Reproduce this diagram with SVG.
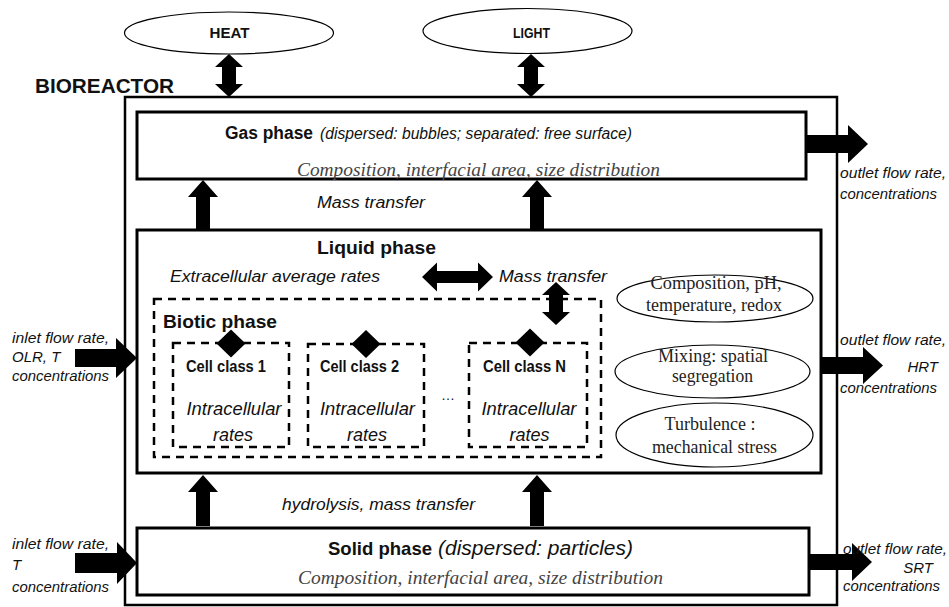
<svg xmlns="http://www.w3.org/2000/svg" xmlns:xlink="http://www.w3.org/1999/xlink" width="949" height="607" viewBox="0 0 949 607">
  <style>
    .box { fill: #ffffff; stroke: #000000; stroke-width: 3; }
    .outer { fill: #ffffff; stroke: #000000; stroke-width: 2.5; }
    .dash { fill: none; stroke: #000000; stroke-width: 2.5; stroke-dasharray: 8 6; }
    .ell { fill: #ffffff; stroke: #000000; stroke-width: 1.2; }
    .arrow { fill: #000000; stroke: none; }
    .sans { font-family: "Liberation Sans", Arial, sans-serif; fill: #111111; }
    .b { font-weight: bold; }
    .i { font-style: italic; }
    .serif { font-family: "Liberation Serif", "Times New Roman", serif; fill: #222222; }
    .comp { font-family: "Liberation Serif", "Times New Roman", serif; font-style: italic; fill: #444444; font-size: 19px; }
    .side { font-family: "Liberation Sans", Arial, sans-serif; font-style: italic; font-size: 15px; fill: #111111; }
  </style>
  <defs>
    <polygon id="upArrow" points="0,0 15,17 7,17 7,51 -7,51 -7,17 -15,17"/>
    <polygon id="dblV" points="0,0 14,13 7,13 7,30 14,30 0,43 -14,30 -7,30 -7,13 -14,13"/>
    <polygon id="diamond" points="0,-14 14.5,0 0,14 -14.5,0"/>
  </defs>
  <rect width="949" height="607" fill="#ffffff"/>

  <g id="bioreactor">
    <rect class="outer" x="125" y="97" width="712" height="508"/>
    <text class="sans b" x="35" y="93" font-size="20" textLength="139" lengthAdjust="spacingAndGlyphs">BIOREACTOR</text>
  </g>

  <g id="heat">
    <ellipse class="ell" cx="229" cy="33" rx="104.5" ry="21"/>
    <text class="sans b" x="229.5" y="38" font-size="15" text-anchor="middle" textLength="40" lengthAdjust="spacingAndGlyphs">HEAT</text>
  </g>
  <g id="light">
    <ellipse class="ell" cx="527.5" cy="31" rx="104.5" ry="22.5"/>
    <text class="sans b" x="531.5" y="38" font-size="15" text-anchor="middle" textLength="37" lengthAdjust="spacingAndGlyphs">LIGHT</text>
  </g>

  <g id="gas-phase">
    <rect class="box" x="137" y="112" width="669" height="67"/>
    <text class="sans b" x="225" y="139" font-size="18" textLength="88" lengthAdjust="spacingAndGlyphs">Gas phase</text>
    <text class="sans i" x="320" y="139" font-size="16" textLength="312" lengthAdjust="spacingAndGlyphs">(dispersed: bubbles; separated: free surface)</text>
    <text class="comp" x="297" y="176" textLength="363" lengthAdjust="spacingAndGlyphs">Composition, interfacial area, size distribution</text>
  </g>

  <g id="liquid-phase">
    <rect class="box" x="137" y="230" width="684" height="243"/>
    <text class="sans b" x="317" y="254" font-size="19" textLength="119" lengthAdjust="spacingAndGlyphs">Liquid phase</text>
    <text class="sans i" x="170" y="282" font-size="16" textLength="210" lengthAdjust="spacingAndGlyphs">Extracellular average rates</text>
    <text class="sans i" x="499" y="282" font-size="16" textLength="108" lengthAdjust="spacingAndGlyphs">Mass transfer</text>
  </g>

  <g id="biotic-phase">
    <rect class="dash" x="154" y="299" width="447" height="158"/>
    <text class="sans b" x="163" y="328" font-size="19" textLength="114" lengthAdjust="spacingAndGlyphs">Biotic phase</text>
    <text class="sans" x="448" y="400" font-size="14" text-anchor="middle">…</text>
  </g>

  <g id="cell-class-1">
    <rect class="dash" x="173" y="343" width="116" height="104"/>
    <use href="#diamond" xlink:href="#diamond" class="arrow" x="231" y="343.5"/>
    <text class="sans b" x="186" y="372" font-size="16" textLength="80" lengthAdjust="spacingAndGlyphs">Cell class 1</text>
    <text class="sans i" x="234" y="415" font-size="18" text-anchor="middle" textLength="95" lengthAdjust="spacingAndGlyphs">Intracellular</text>
    <text class="sans i" x="233" y="441" font-size="18" text-anchor="middle">rates</text>
  </g>

  <g id="cell-class-2">
    <rect class="dash" x="308" y="344" width="116" height="103"/>
    <use href="#diamond" xlink:href="#diamond" class="arrow" x="366" y="344"/>
    <text class="sans b" x="320" y="372" font-size="16" textLength="79" lengthAdjust="spacingAndGlyphs">Cell class 2</text>
    <text class="sans i" x="367.5" y="415" font-size="18" text-anchor="middle" textLength="95" lengthAdjust="spacingAndGlyphs">Intracellular</text>
    <text class="sans i" x="367" y="441" font-size="18" text-anchor="middle">rates</text>
  </g>

  <g id="cell-class-n">
    <rect class="dash" x="469" y="343" width="118" height="104"/>
    <use href="#diamond" xlink:href="#diamond" class="arrow" x="530" y="342.5"/>
    <text class="sans b" x="483" y="372" font-size="16" textLength="83" lengthAdjust="spacingAndGlyphs">Cell class N</text>
    <text class="sans i" x="529" y="415" font-size="18" text-anchor="middle" textLength="95" lengthAdjust="spacingAndGlyphs">Intracellular</text>
    <text class="sans i" x="529.5" y="441" font-size="18" text-anchor="middle">rates</text>
  </g>

  <g id="composition">
    <ellipse class="ell" cx="715" cy="298.5" rx="98" ry="23.5"/>
    <text class="serif" x="716" y="289" font-size="18" text-anchor="middle" textLength="131" lengthAdjust="spacingAndGlyphs">Composition, pH,</text>
    <text class="serif" x="714" y="311" font-size="18" text-anchor="middle" textLength="136" lengthAdjust="spacingAndGlyphs">temperature, redox</text>
  </g>
  <g id="mixing">
    <ellipse class="ell" cx="712.5" cy="371.5" rx="97.5" ry="26.5"/>
    <text class="serif" x="713" y="362" font-size="18" text-anchor="middle" textLength="110" lengthAdjust="spacingAndGlyphs">Mixing: spatial</text>
    <text class="serif" x="712.5" y="382" font-size="18" text-anchor="middle" textLength="81" lengthAdjust="spacingAndGlyphs">segregation</text>
  </g>
  <g id="turbulence">
    <ellipse class="ell" cx="714.5" cy="435" rx="98.5" ry="32"/>
    <text class="serif" x="710" y="430" font-size="18" text-anchor="middle">Turbulence :</text>
    <text class="serif" x="714.5" y="453" font-size="18" text-anchor="middle" textLength="125" lengthAdjust="spacingAndGlyphs">mechanical stress</text>
  </g>

  <g id="solid-phase">
    <rect class="box" x="137" y="528" width="672" height="67"/>
    <text class="sans b" x="328" y="555" font-size="19" textLength="104" lengthAdjust="spacingAndGlyphs">Solid phase</text>
    <text class="sans i" x="438" y="555" font-size="20" textLength="195" lengthAdjust="spacingAndGlyphs">(dispersed: particles)</text>
    <text class="comp" x="298" y="584" textLength="365" lengthAdjust="spacingAndGlyphs">Composition, interfacial area, size distribution</text>
  </g>

  <g id="connectors">
    <use href="#dblV" xlink:href="#dblV" class="arrow" x="229" y="54"/>
    <use href="#dblV" xlink:href="#dblV" class="arrow" x="531" y="54"/>
    <use href="#upArrow" xlink:href="#upArrow" class="arrow" x="203" y="180"/>
    <use href="#upArrow" xlink:href="#upArrow" class="arrow" x="537" y="180"/>
    <text class="sans i" x="317" y="208" font-size="16" textLength="108" lengthAdjust="spacingAndGlyphs">Mass transfer</text>
    <use href="#upArrow" xlink:href="#upArrow" class="arrow" x="203" y="475"/>
    <use href="#upArrow" xlink:href="#upArrow" class="arrow" x="537" y="475"/>
    <text class="sans i" x="282" y="510" font-size="16" textLength="193" lengthAdjust="spacingAndGlyphs">hydrolysis, mass transfer</text>
    <polygon class="arrow" points="422,277 437,262.5 437,271 478,271 478,262.5 493,277 478,291.5 478,283 437,283 437,291.5"/>
    <use href="#dblV" xlink:href="#dblV" class="arrow" x="556" y="282"/>
    <polygon class="arrow" points="806,135 848,135 848,125 868,144 848,163 848,153 806,153"/>
    <polygon class="arrow" points="821,357 863,357 863,347 883,365.5 863,384 863,374 821,374"/>
    <polygon class="arrow" points="809,554 852,554 852,543 872,562 852,581 852,570 809,570"/>
    <polygon class="arrow" points="75,349 116,349 116,338 137,358 116,378 116,367 75,367"/>
    <polygon class="arrow" points="75,553 117,553 117,542 137,563 117,584 117,573 75,573"/>
  </g>

  <g id="flow-labels">
    <text class="side" x="840" y="178" textLength="106" lengthAdjust="spacingAndGlyphs">outlet flow rate,</text>
    <text class="side" x="840" y="199" textLength="97" lengthAdjust="spacingAndGlyphs">concentrations</text>

    <text class="side" x="840" y="345" textLength="106" lengthAdjust="spacingAndGlyphs">outlet flow rate,</text>
    <text class="side" x="938" y="372" text-anchor="end">HRT</text>
    <text class="side" x="840" y="393" textLength="97" lengthAdjust="spacingAndGlyphs">concentrations</text>

    <text class="side" x="843" y="554" textLength="104" lengthAdjust="spacingAndGlyphs">outlet flow rate,</text>
    <text class="side" x="933" y="573" text-anchor="end">SRT</text>
    <text class="side" x="843" y="591" textLength="97" lengthAdjust="spacingAndGlyphs">concentrations</text>

    <text class="side" x="12" y="343" textLength="97" lengthAdjust="spacingAndGlyphs">inlet flow rate,</text>
    <text class="side" x="12" y="362">OLR, T</text>
    <text class="side" x="12" y="381" textLength="97" lengthAdjust="spacingAndGlyphs">concentrations</text>

    <text class="side" x="12" y="549" textLength="97" lengthAdjust="spacingAndGlyphs">inlet flow rate,</text>
    <text class="side" x="12" y="570">T</text>
    <text class="side" x="12" y="592" textLength="97" lengthAdjust="spacingAndGlyphs">concentrations</text>
  </g>
</svg>
